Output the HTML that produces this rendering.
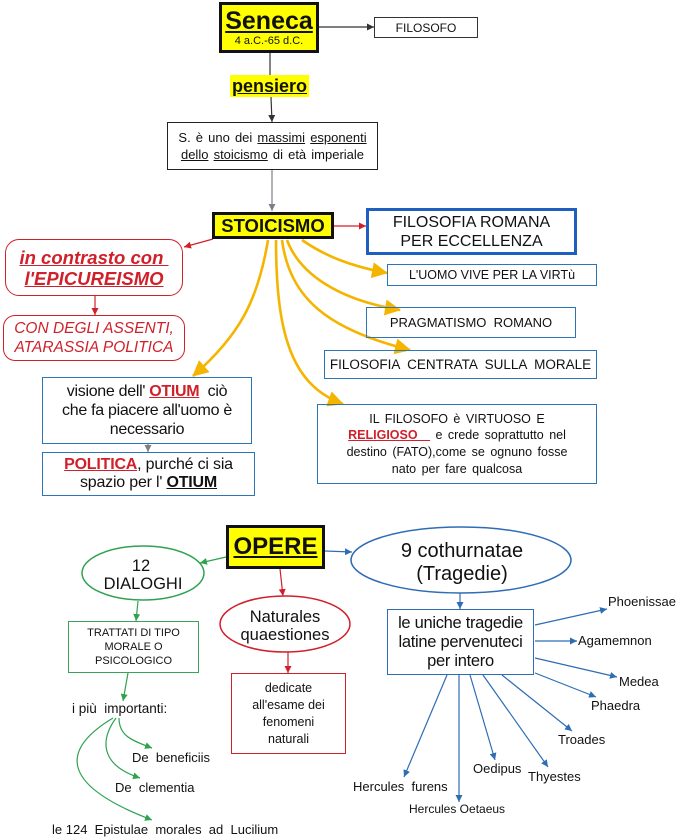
<!DOCTYPE html>
<html>
<head>
<meta charset="utf-8">
<style>
  html,body{margin:0;padding:0;background:#fff;}
  body{width:683px;height:840px;position:relative;overflow:hidden;font-family:"Liberation Sans",Arial,sans-serif;color:#111;}
  .b{position:absolute;box-sizing:border-box;display:flex;flex-direction:column;justify-content:center;align-items:center;text-align:center;}
  svg{position:absolute;left:0;top:0;}
  u{text-decoration:underline;}
  .red{color:#d0202a;}
</style>
</head>
<body>
<svg width="683" height="840" viewBox="0 0 683 840">
  <defs>
    <marker id="aK" markerUnits="userSpaceOnUse" markerWidth="7" markerHeight="7" refX="7" refY="3.5" orient="auto"><path d="M0,0 L7,3.5 L0,7 z" fill="#333"/></marker>
    <marker id="aG" markerUnits="userSpaceOnUse" markerWidth="7" markerHeight="7" refX="7" refY="3.5" orient="auto"><path d="M0,0 L7,3.5 L0,7 z" fill="#7a8088"/></marker>
    <marker id="aR" markerUnits="userSpaceOnUse" markerWidth="7" markerHeight="7" refX="7" refY="3.5" orient="auto"><path d="M0,0 L7,3.5 L0,7 z" fill="#d0202a"/></marker>
    <marker id="aB" markerUnits="userSpaceOnUse" markerWidth="7" markerHeight="7" refX="7" refY="3.5" orient="auto"><path d="M0,0 L7,3.5 L0,7 z" fill="#2e6db4"/></marker>
    <marker id="aN" markerUnits="userSpaceOnUse" markerWidth="7" markerHeight="7" refX="7" refY="3.5" orient="auto"><path d="M0,0 L7,3.5 L0,7 z" fill="#2ea24f"/></marker>
    <marker id="aY" markerUnits="userSpaceOnUse" markerWidth="16" markerHeight="16" refX="15" refY="8" orient="auto"><path d="M0,0 L16,8 L0,16 z" fill="#f5b400"/></marker>
  </defs>

  <!-- top connectors -->
  <line x1="319" y1="27" x2="374" y2="27" stroke="#333" stroke-width="1.2" marker-end="url(#aK)"/>
  <line x1="270" y1="53" x2="270" y2="75" stroke="#333" stroke-width="1.2"/>
  <line x1="271" y1="97" x2="272" y2="122" stroke="#333" stroke-width="1.2" marker-end="url(#aK)"/>
  <line x1="272" y1="170" x2="272" y2="211" stroke="#7a8088" stroke-width="1.2" marker-end="url(#aG)"/>
  <line x1="334" y1="226" x2="366" y2="226" stroke="#d0202a" stroke-width="1.2" marker-end="url(#aR)"/>
  <line x1="213" y1="239" x2="184" y2="247" stroke="#d0202a" stroke-width="1.2" marker-end="url(#aR)"/>
  <line x1="95" y1="296" x2="95" y2="315" stroke="#d0202a" stroke-width="1.2" marker-end="url(#aR)"/>
  <line x1="148" y1="444" x2="148" y2="452" stroke="#7a8088" stroke-width="1.2" marker-end="url(#aG)"/>

  <!-- yellow curves -->
  <g fill="none" stroke="#f5b400" stroke-width="2.6">
    <path d="M302,240 C325,256 350,266 387,273" marker-end="url(#aY)"/>
    <path d="M287,240 C300,275 340,300 400,310" marker-end="url(#aY)"/>
    <path d="M282,240 C290,300 330,330 410,350" marker-end="url(#aY)"/>
    <path d="M276,240 C276,330 290,385 343,404" marker-end="url(#aY)"/>
    <path d="M268,240 C258,300 240,335 193,376" marker-end="url(#aY)"/>
  </g>

  <!-- OPERE connectors -->
  <line x1="226" y1="557" x2="200" y2="563" stroke="#2ea24f" stroke-width="1.2" marker-end="url(#aN)"/>
  <line x1="138" y1="601" x2="136" y2="621" stroke="#2ea24f" stroke-width="1.2" marker-end="url(#aN)"/>
  <line x1="128" y1="673" x2="123" y2="701" stroke="#2ea24f" stroke-width="1.2" marker-end="url(#aN)"/>
  <line x1="280" y1="569" x2="283" y2="596" stroke="#d0202a" stroke-width="1.2" marker-end="url(#aR)"/>
  <line x1="288" y1="652" x2="288" y2="673" stroke="#d0202a" stroke-width="1.2" marker-end="url(#aR)"/>
  <line x1="325" y1="551" x2="352" y2="552" stroke="#2e6db4" stroke-width="1.2" marker-end="url(#aB)"/>
  <line x1="460" y1="593" x2="460" y2="609" stroke="#2e6db4" stroke-width="1.2" marker-end="url(#aB)"/>

  <!-- green curves -->
  <g fill="none" stroke="#2ea24f" stroke-width="1.2">
    <path d="M119,718 C119,735 130,740 152,748" marker-end="url(#aN)"/>
    <path d="M116,718 C100,740 100,765 140,778" marker-end="url(#aN)"/>
    <path d="M113,718 C60,750 60,785 152,820" marker-end="url(#aN)"/>
  </g>

  <!-- blue radial -->
  <g stroke="#2e6db4" stroke-width="1.2">
    <line x1="535" y1="625" x2="607" y2="609" marker-end="url(#aB)"/>
    <line x1="535" y1="641" x2="577" y2="641" marker-end="url(#aB)"/>
    <line x1="535" y1="658" x2="617" y2="677" marker-end="url(#aB)"/>
    <line x1="535" y1="673" x2="596" y2="697" marker-end="url(#aB)"/>
    <line x1="502" y1="675" x2="572" y2="731" marker-end="url(#aB)"/>
    <line x1="483" y1="675" x2="548" y2="767" marker-end="url(#aB)"/>
    <line x1="470" y1="675" x2="495" y2="760" marker-end="url(#aB)"/>
    <line x1="459" y1="675" x2="459" y2="802" marker-end="url(#aB)"/>
    <line x1="447" y1="675" x2="404" y2="777" marker-end="url(#aB)"/>
  </g>

  <!-- ellipses -->
  <ellipse cx="143" cy="573" rx="61" ry="27" fill="#fff" stroke="#2ea24f" stroke-width="1.5"/>
  <ellipse cx="285" cy="624" rx="65" ry="28" fill="#fff" stroke="#d0202a" stroke-width="1.5"/>
  <ellipse cx="461" cy="560" rx="110" ry="33" fill="#fff" stroke="#2e6db4" stroke-width="1.5"/>

  <g font-family="Liberation Sans, Arial, sans-serif" fill="#111" text-anchor="middle">
    <text x="141" y="571" font-size="16.5">12</text>
    <text x="143" y="589" font-size="16.5">DIALOGHI</text>
    <text x="285" y="622" font-size="16.5">Naturales</text>
    <text x="285" y="640" font-size="16.5">quaestiones</text>
    <text x="462" y="557" font-size="20">9 cothurnatae</text>
    <text x="462" y="580" font-size="20">(Tragedie)</text>
  </g>
  <g font-family="Liberation Sans, Arial, sans-serif" fill="#111" font-size="13">
    <text x="608" y="606">Phoenissae</text>
    <text x="578" y="645">Agamemnon</text>
    <text x="619" y="686">Medea</text>
    <text x="591" y="710">Phaedra</text>
    <text x="558" y="744">Troades</text>
    <text x="528" y="781">Thyestes</text>
    <text x="473" y="773">Oedipus</text>
    <text x="353" y="791">Hercules&#160; furens</text>
    <text x="409" y="813" font-size="12">Hercules Oetaeus</text>
    <text x="72" y="713" font-size="13.5">i più&#160; importanti:</text>
    <text x="132" y="762">De&#160; beneficiis</text>
    <text x="115" y="792">De&#160; clementia</text>
    <text x="52" y="834">le 124&#160; Epistulae&#160; morales&#160; ad&#160; Lucilium</text>
  </g>
</svg>

<!-- Seneca -->
<div class="b" style="left:219px;top:2px;width:100px;height:51px;border:3px solid #111;background:#ffff00;">
  <div style="font-weight:bold;font-size:25px;line-height:27px;text-decoration:underline;">Seneca</div>
  <div style="font-size:11px;line-height:12px;">4 a.C.-65 d.C.</div>
</div>
<div class="b" style="left:374px;top:17px;width:104px;height:21px;border:1px solid #333;font-size:12px;">FILOSOFO</div>
<div class="b" style="left:230px;top:75px;width:79px;height:22px;background:#ffff00;font-weight:bold;font-size:18px;"><u>pensiero</u></div>
<div class="b" style="left:167px;top:122px;width:211px;height:48px;border:1.5px solid #222;font-size:13px;line-height:17px;word-spacing:1.5px;">
  <div>S. è uno dei <u>massimi</u> <u>esponenti</u></div>
  <div><u>dello</u> <u>stoicismo</u> di età imperiale</div>
</div>

<!-- STOICISMO -->
<div class="b" style="left:212px;top:212px;width:122px;height:27px;border:3px solid #111;background:#ffff00;font-weight:bold;font-size:18.5px;">STOICISMO</div>
<div class="b" style="left:366px;top:208px;width:211px;height:47px;border:3px solid #1f5fbf;font-size:16px;line-height:19px;">
  <div>FILOSOFIA ROMANA</div><div>PER ECCELLENZA</div>
</div>
<div class="b" style="left:387px;top:264px;width:210px;height:22px;border:1.2px solid #2e75b6;font-size:12.5px;">L'UOMO VIVE PER LA VIRTù</div>
<div class="b" style="left:366px;top:307px;width:210px;height:31px;border:1.2px solid #2e75b6;font-size:13px;white-space:pre;">PRAGMATISMO  ROMANO</div>
<div class="b" style="left:324px;top:350px;width:273px;height:29px;border:1.2px solid #2e75b6;font-size:13.5px;white-space:pre;">FILOSOFIA  CENTRATA  SULLA  MORALE</div>
<div class="b" style="left:317px;top:404px;width:280px;height:80px;border:1.2px solid #2e75b6;font-size:12.5px;line-height:16.7px;word-spacing:2px;">
  <div>IL FILOSOFO è VIRTUOSO E</div>
  <div><b class="red"><u>RELIGIOSO _</u></b> e crede soprattutto nel</div>
  <div>destino (FATO),come se ognuno fosse</div>
  <div>nato per fare qualcosa</div>
</div>

<!-- left side -->
<div class="b" style="left:5px;top:239px;width:178px;height:57px;border:1.5px solid #d0202a;border-radius:14px;color:#d0202a;font-weight:bold;font-style:italic;font-size:18.5px;line-height:21px;">
  <div><u>in contrasto con&#160;</u></div><div><u>l'EPICUREISMO</u></div>
</div>
<div class="b" style="left:3px;top:315px;width:182px;height:46px;border:1.5px solid #d0202a;border-radius:12px;color:#d0202a;font-style:italic;font-size:15.5px;line-height:19px;">
  <div>CON DEGLI ASSENTI,</div><div>ATARASSIA POLITICA</div>
</div>
<div class="b" style="left:42px;top:377px;width:210px;height:67px;border:1.5px solid #2e75b6;font-size:16px;line-height:19px;letter-spacing:-0.3px;">
  <div>visione dell' <b class="red"><u>OTIUM</u></b>&#160; ciò</div>
  <div>che fa piacere all'uomo è</div>
  <div>necessario</div>
</div>
<div class="b" style="left:42px;top:452px;width:213px;height:44px;border:1.5px solid #2e75b6;font-size:16px;line-height:18px;letter-spacing:-0.2px;">
  <div><b class="red"><u>POLITICA</u></b>, purché ci sia</div>
  <div>spazio per l' <b><u>OTIUM</u></b></div>
</div>

<!-- OPERE -->
<div class="b" style="left:226px;top:525px;width:99px;height:44px;border:3px solid #111;background:#ffff00;font-weight:bold;font-size:24px;"><u>OPERE</u></div>
<div class="b" style="left:68px;top:621px;width:131px;height:52px;border:1.5px solid #3aa35a;font-size:11px;line-height:14px;">
  <div>TRATTATI DI TIPO</div><div>MORALE O</div><div>PSICOLOGICO</div>
</div>
<div class="b" style="left:231px;top:673px;width:115px;height:81px;border:1.5px solid #d0202a;font-size:12.5px;line-height:17px;">
  <div>dedicate</div><div>all'esame dei</div><div>fenomeni</div><div>naturali</div>
</div>
<div class="b" style="left:387px;top:609px;width:147px;height:66px;border:1.5px solid #2e6db4;font-size:16.5px;line-height:19px;letter-spacing:-0.3px;">
  <div>le uniche tragedie</div><div>latine pervenuteci</div><div>per intero</div>
</div>
</body>
</html>
